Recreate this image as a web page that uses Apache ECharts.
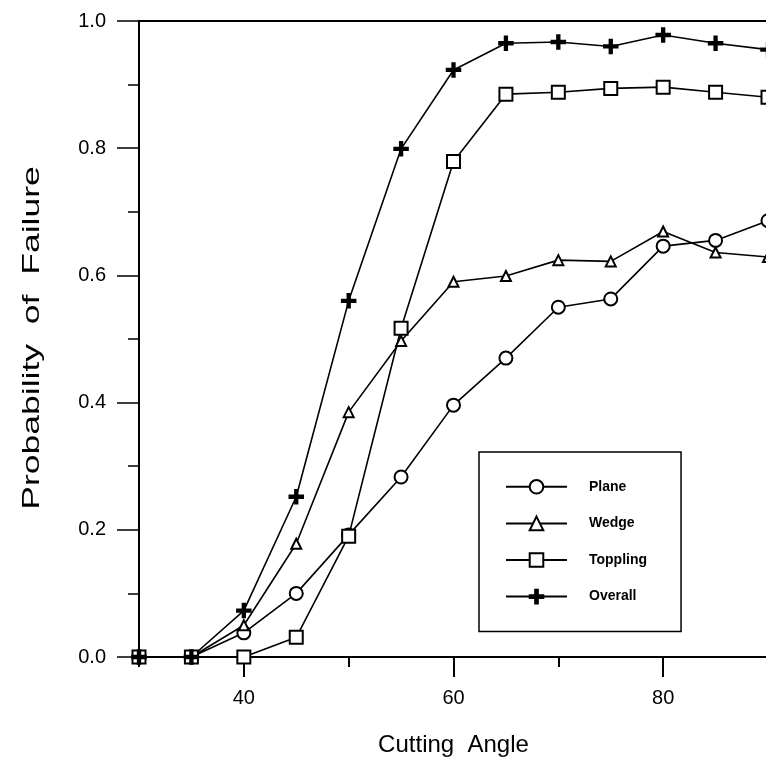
<!DOCTYPE html>
<html>
<head>
<meta charset="utf-8">
<script src="https://cdn.jsdelivr.net/npm/echarts@6/dist/echarts.min.js"></script>
<style>
  html, body { margin: 0; padding: 0; background: #fff; overflow: hidden; }
  /* a bit wider than the window: the right frame edge falls just off-screen, like the scan */
  #chart { width: 772px; height: 769px; }
</style>
</head>
<body>
<div id="chart"></div>
<script>
// cutting angle (deg)
const angles = [30, 35, 40, 45, 50, 55, 60, 65, 70, 75, 80, 85, 90];
const plane = [0, 0, 0.038, 0.10, 0.192, 0.283, 0.396, 0.47, 0.55, 0.563, 0.646, 0.655, 0.686];
const wedge = [0, 0, 0.05, 0.178, 0.385, 0.497, 0.59, 0.599, 0.624, 0.622, 0.669, 0.636, 0.629];
const toppling = [0, 0, 0, 0.031, 0.19, 0.517, 0.779, 0.885, 0.888, 0.894, 0.896, 0.888, 0.88];
const overall = [0, 0, 0.073, 0.252, 0.56, 0.799, 0.923, 0.965, 0.967, 0.96, 0.978, 0.965, 0.955];
const xMajorTicks = [40, 60, 80];

const font = "'Liberation Sans', Arial, sans-serif";
const plusIcon = "path://M4,0h2v4h4v2h-4v4h-2v-4h-4v-2h4z";

function pairs(ys) {
  return angles.map((a, i) => [a, ys[i]]);
}

function makeSeries(name, ys, symbol, size) {
  return {
    name: name,
    type: "line",
    data: pairs(ys),
    symbol: symbol,
    symbolSize: size,
    showAllSymbol: true,
    lineStyle: { color: "#000", width: 1.6 },
    itemStyle: { color: "#000", borderColor: "#000", borderWidth: 1.5 },
    emphasis: { disabled: true },
    z: 3
  };
}

const myChart = echarts.init(document.getElementById("chart"), null, { renderer: "canvas" });
const option = {
  backgroundColor: "#fff",
  animation: false,
  grid: {
    left: 139,
    top: 21,
    right: 4,
    height: 636,
    show: true,
    borderColor: "#000",
    borderWidth: 2
  },
  legend: {
    orient: "vertical",
    left: 479,
    top: 452,
    padding: [27, 34, 27, 26],
    itemWidth: 61,
    itemHeight: 17,
    itemGap: 21,
    borderColor: "#000",
    borderWidth: 1.5,
    backgroundColor: "#fff",
    textStyle: { fontFamily: font, fontSize: 14, fontWeight: "bold", color: "#000", padding: [0, 0, 0, 17] },
    data: ["Plane", "Wedge", "Toppling", "Overall"]
  },
  graphic: [
    {
      type: "text",
      x: 32,
      y: 338,
      rotation: Math.PI / 2,
      scaleX: 1.48,
      style: {
        text: "Probability  of  Failure",
        fontFamily: font,
        fontSize: 24,
        fill: "#000",
        align: "center",
        verticalAlign: "middle"
      }
    }
  ],
  xAxis: [
    {
      type: "value",
      min: 30,
      max: 90,
      interval: 10,
      name: "Cutting  Angle",
      nameLocation: "middle",
      nameGap: 76,
      nameTextStyle: { fontFamily: font, fontSize: 24, color: "#000" },
      axisLine: { lineStyle: { color: "#000", width: 2 } },
      axisTick: { show: true, length: 10, lineStyle: { color: "#000", width: 2 } },
      axisLabel: {
        margin: 31,
        fontFamily: font,
        fontSize: 20,
        color: "#000",
        formatter: function (v) {
          return xMajorTicks.indexOf(v) >= 0 ? String(v) : "";
        }
      },
      splitLine: { show: false }
    },
    {
      // long ticks at the labelled angles
      type: "value",
      min: 30,
      max: 90,
      position: "bottom",
      axisLine: { show: false },
      axisTick: { show: true, length: 20, customValues: xMajorTicks, lineStyle: { color: "#000", width: 2 } },
      axisLabel: { show: false },
      splitLine: { show: false }
    }
  ],
  yAxis: {
    type: "value",
    min: 0,
    max: 1,
    interval: 0.2,
    axisLine: { lineStyle: { color: "#000", width: 2 } },
    axisTick: { length: 22, lineStyle: { color: "#000", width: 1.5 } },
    minorTick: { show: true, splitNumber: 2, length: 11, lineStyle: { color: "#000", width: 1.5 } },
    axisLabel: {
      margin: 33,
      fontFamily: font,
      fontSize: 20,
      color: "#000",
      formatter: function (v) { return v.toFixed(1); }
    },
    splitLine: { show: false }
  },
  series: [
    makeSeries("Plane", plane, "emptyCircle", 13),
    makeSeries("Wedge", wedge, "emptyTriangle", 10),
    makeSeries("Toppling", toppling, "emptyRect", 13),
    makeSeries("Overall", overall, plusIcon, 14)
  ]
};
myChart.setOption(option);
</script>
</body>
</html>
